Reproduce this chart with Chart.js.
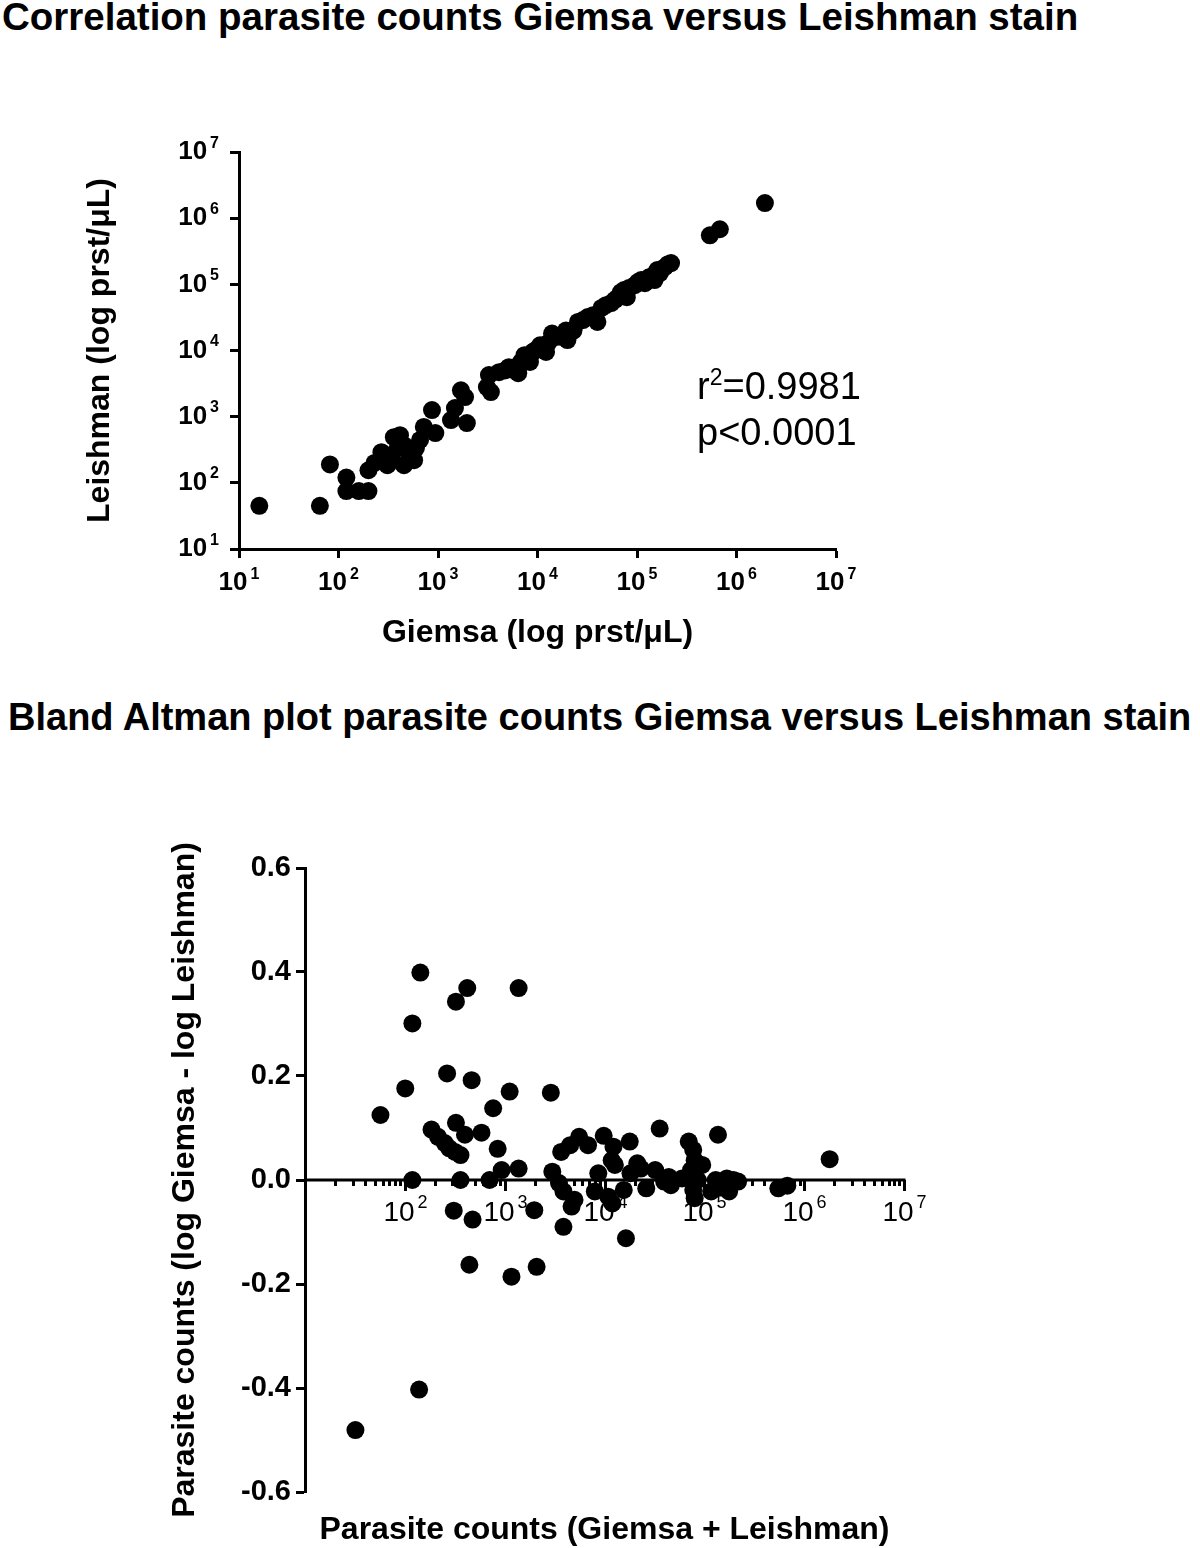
<!DOCTYPE html>
<html>
<head>
<meta charset="utf-8">
<script src="https://cdn.jsdelivr.net/npm/chart.js@4.4.0/dist/chart.umd.min.js"></script>
<style>
  body { margin: 0; background: #fff; width: 1200px; height: 1548px; overflow: hidden; position: relative;
         font-family: "Liberation Sans", Arial, sans-serif; color: #000; }
  .title { position: absolute; font-weight: bold; font-size: 38px; line-height: 38px; white-space: nowrap; }
  #topWrap { position: absolute; left: 0; top: 90px; }
  #bottomWrap { position: absolute; left: 0; top: 780px; }
</style>
</head>
<body>
<div class="title" style="left:2px; top:-2px; font-size:38.5px;">Correlation parasite counts Giemsa versus Leishman stain</div>
<div class="title" style="left:8px; top:698px;">Bland Altman plot parasite counts Giemsa versus Leishman stain</div>
<div id="topWrap"><canvas id="corrChart" width="900" height="600"></canvas></div>
<div id="bottomWrap"><canvas id="baChart" width="960" height="780"></canvas></div>
<script>
const FONT = '"Liberation Sans", Arial, sans-serif';

// correlation plot: parasites/uL, Giemsa vs Leishman
const giemsa = [16, 65, 82, 120, 120, 160, 200, 200, 230, 270, 310, 345, 360, 395, 415, 455, 455, 520, 575, 600,
  660, 720, 870, 940, 1350, 1480, 1700, 1950, 1870, 3100, 3400, 3250, 4100, 4700, 5150, 5700, 6400, 6800, 7400,
  8400, 9000, 9400, 10600, 12200, 12800, 14000, 15400, 17600, 19300, 20000, 23000, 25500, 28600, 32000, 36000,
  40000, 44000, 48700, 55000, 60000, 63000, 69000, 74000, 79000, 83000, 95000, 102000, 110000, 120000, 132000,
  142000, 150000, 160000, 170000, 190000, 205000, 220000, 540000, 680000, 1930000];
const leishman = [45, 45, 190, 120, 75, 75, 75, 155, 200, 290, 185, 265, 490, 335, 525, 370, 185, 265, 220, 335,
  445, 700, 1260, 565, 890, 1350, 2500, 800, 1980, 2800, 2350, 4250, 4700, 5000, 5600, 5100, 4550, 6700, 8500,
  6700, 9500, 10000, 12000, 9500, 13000, 18000, 16000, 16000, 20000, 14400, 20000, 27000, 28800, 32000, 34000,
  27000, 44000, 48500, 52000, 58000, 62000, 76000, 82000, 64000, 88000, 97000, 108000, 116000, 104000, 128000,
  133000, 116000, 164000, 148000, 182000, 202000, 210000, 550000, 680000, 1690000];

// Bland Altman plot
const meanCounts = [32, 57, 101, 119, 143, 119, 139, 185, 215, 251, 279, 318, 361, 265, 325, 422, 325, 400, 467, 361,
  586, 309, 477, 443, 767, 851, 706, 933, 1122, 1380, 1380, 1170, 1980, 2090, 2900, 3000, 3500, 3880, 3680, 4530,
  5010, 3880, 5570, 6840, 4680, 8670, 8000, 9820, 11800, 12300, 12700, 10900, 12000, 16400, 17900, 15600, 18200,
  21300, 23100, 26200, 32200, 35700, 39600, 46200, 44000, 59800, 69800, 77400, 80000, 73600, 85900, 77400, 80000,
  95300, 117000, 137000, 130000, 151000, 168000, 177000, 196000, 218000, 551000, 678000, 1800000];
const logDiff = [-0.481, 0.125, 0.176, 0.301, 0.399, 0.0, -0.403, 0.097, 0.083, 0.071, 0.061, 0.054, 0.048, 0.205,
  0.343, 0.369, 0.110, 0.087, 0.192, 0.0, 0.091, -0.059, -0.076, -0.163, 0.138, 0.060, 0.0, 0.019, 0.170, 0.369,
  0.022, -0.186, -0.058, -0.167, 0.168, 0.016, -0.006, -0.022, 0.054, 0.067, -0.038, -0.090, 0.083, 0.067, -0.051,
  0.013, -0.022, 0.085, 0.038, 0.064, 0.029, -0.032, -0.045, -0.112, 0.074, -0.019, 0.013, 0.032, 0.022, -0.016,
  0.019, 0.099, -0.003, -0.010, 0.006, 0.003, 0.074, 0.058, 0.038, 0.019, 0.0, -0.019, -0.035, 0.029, -0.022,
  0.087, 0.0, -0.013, 0.003, -0.022, 0.0, -0.003, -0.016, -0.011, 0.040];

const decades = [10, 100, 1000, 10000, 100000, 1000000, 10000000];
const minorSteps = [2, 3, 4, 5, 6, 7, 8, 9];
const diffTicks = [-0.6, -0.4, -0.2, 0, 0.2, 0.4, 0.6];

Chart.defaults.font.family = FONT;
Chart.defaults.color = '#000';

// "10" with a raised exponent
function drawPow(ctx, x, y, value, size, supSize, weight, align) {
  const exp = String(Math.round(Math.log10(value)));
  const baseFont = `${weight} ${size}px ${FONT}`;
  const supFont = `${weight} ${supSize}px ${FONT}`;
  ctx.font = baseFont;
  const wBase = ctx.measureText('10').width;
  ctx.font = supFont;
  const wExp = ctx.measureText(exp).width;
  const total = wBase + 3 + wExp;
  const left = align === 'right' ? x - total : x - total / 2;
  ctx.textAlign = 'left';
  ctx.textBaseline = 'middle';
  ctx.fillStyle = '#000';
  ctx.font = baseFont;
  ctx.fillText('10', left, y);
  ctx.font = supFont;
  ctx.fillText(exp, left + wBase + 3, y - size * 0.34);
}

const corrLabels = {
  id: 'corrLabels',
  afterDraw(chart) {
    const { ctx, chartArea, scales: { x, y } } = chart;
    ctx.save();
    decades.forEach(v => {
      drawPow(ctx, x.getPixelForValue(v), chartArea.bottom + 34, v, 26, 16, 'bold', 'center');
      drawPow(ctx, chartArea.left - 20, y.getPixelForValue(v), v, 26, 16, 'bold', 'right');
    });
    // r squared / p value
    ctx.textAlign = 'left';
    ctx.textBaseline = 'alphabetic';
    ctx.font = `38px ${FONT}`;
    const ax = 697, ay = 399 - 90;
    ctx.fillText('r', ax, ay);
    const wr = ctx.measureText('r').width;
    ctx.font = `23px ${FONT}`;
    ctx.fillText('2', ax + wr, ay - 14);
    const w2 = ctx.measureText('2').width;
    ctx.font = `38px ${FONT}`;
    ctx.fillText('=0.9981', ax + wr + w2, ay);
    ctx.fillText('p<0.0001', ax, ay + 46);
    ctx.restore();
  }
};

const baAxis = {
  id: 'baAxis',
  beforeDatasetsDraw(chart) {
    const { ctx, chartArea, scales: { x, y } } = chart;
    const y0 = y.getPixelForValue(0);
    ctx.save();
    ctx.strokeStyle = '#000';
    ctx.lineWidth = 3;
    ctx.beginPath();
    ctx.moveTo(chartArea.left, y0);
    ctx.lineTo(chartArea.right + 1.5, y0);
    ctx.stroke();
    decades.slice(0, -1).forEach(d => {
      minorSteps.forEach(m => {
        const px = Math.round(x.getPixelForValue(d * m)) + 0.5;
        ctx.beginPath();
        ctx.moveTo(px, y0);
        ctx.lineTo(px, y0 + 6);
        ctx.stroke();
      });
    });
    decades.slice(1).forEach(d => {
      const px = Math.round(x.getPixelForValue(d)) + 0.5;
      ctx.beginPath();
      ctx.moveTo(px, y0);
      ctx.lineTo(px, y0 + 11);
      ctx.stroke();
      drawPow(ctx, px, y0 + 33, d, 28, 18, 'normal', 'center');
    });
    ctx.restore();
  }
};

const axisTitle = text => ({ display: true, text: text, color: '#000', padding: 0,
  font: { family: FONT, size: 32, weight: 'bold' } });

new Chart(document.getElementById('corrChart'), {
  type: 'scatter',
  data: {
    datasets: [{
      data: giemsa.map((g, i) => ({ x: g, y: leishman[i] })),
      backgroundColor: '#000',
      borderColor: '#000',
      borderWidth: 0,
      pointRadius: 9,
      pointHoverRadius: 9
    }]
  },
  options: {
    responsive: false,
    animation: false,
    events: [],
    layout: { padding: { left: 81, top: 62, right: 64, bottom: 38 } },
    plugins: { legend: { display: false }, tooltip: { enabled: false } },
    scales: {
      x: {
        type: 'logarithmic', min: 10, max: 10000000,
        afterBuildTicks: s => { s.ticks = decades.map(v => ({ value: v })); },
        afterFit: s => { s.height = 103; },
        grid: { drawOnChartArea: false, drawTicks: true, tickLength: 9, tickColor: '#000', tickWidth: 3 },
        border: { display: true, color: '#000', width: 3 },
        ticks: { display: false },
        title: axisTitle('Giemsa (log prst/μL)')
      },
      y: {
        type: 'logarithmic', min: 10, max: 10000000,
        afterBuildTicks: s => { s.ticks = decades.map(v => ({ value: v })); },
        afterFit: s => { s.width = 158; },
        grid: { drawOnChartArea: false, drawTicks: true, tickLength: 9, tickColor: '#000', tickWidth: 3 },
        border: { display: true, color: '#000', width: 3 },
        ticks: { display: false },
        title: axisTitle('Leishman (log prst/μL)')
      }
    }
  },
  plugins: [corrLabels]
});

new Chart(document.getElementById('baChart'), {
  type: 'scatter',
  data: {
    datasets: [{
      data: meanCounts.map((m, i) => ({ x: m, y: logDiff[i] })),
      backgroundColor: '#000',
      borderColor: '#000',
      borderWidth: 0,
      pointRadius: 9,
      pointHoverRadius: 9
    }]
  },
  options: {
    responsive: false,
    animation: false,
    events: [],
    layout: { padding: { left: 166, top: 88, right: 56, bottom: 11 } },
    plugins: { legend: { display: false }, tooltip: { enabled: false } },
    scales: {
      x: {
        type: 'logarithmic', min: 10, max: 10000000,
        afterFit: s => { s.height = 57; },
        grid: { display: false },
        border: { display: false },
        ticks: { display: false },
        title: axisTitle('Parasite counts (Giemsa + Leishman)')
      },
      y: {
        min: -0.6, max: 0.6,
        afterBuildTicks: s => { s.ticks = diffTicks.map(v => ({ value: v })); },
        afterFit: s => { s.width = 139; },
        grid: { drawOnChartArea: false, drawTicks: true, tickLength: 9, tickColor: '#000', tickWidth: 3 },
        border: { display: true, color: '#000', width: 3 },
        ticks: { color: '#000', padding: 5, font: { family: FONT, size: 29, weight: 'bold' },
                 callback: v => (Math.abs(v) < 1e-9 ? 0 : v).toFixed(1) },
        title: axisTitle('Parasite counts (log Giemsa - log Leishman)')
      }
    }
  },
  plugins: [baAxis]
});
</script>
</body>
</html>
